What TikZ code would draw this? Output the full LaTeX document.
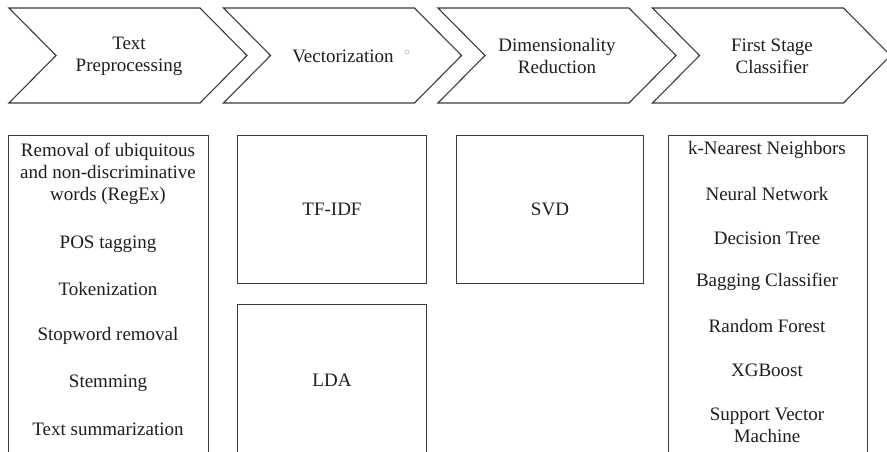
\documentclass[tikz,border=0pt]{standalone}
\usepackage{fontspec}
\setmainfont{Liberation Serif}
\definecolor{lc}{HTML}{3C3C3C}
\definecolor{tc}{HTML}{1E1E1E}
\begin{document}
\begin{tikzpicture}[x=1pt,y=-1pt,
  chev/.style={draw=lc, line width=1.1pt, line join=miter},
  panel/.style={draw=lc, line width=1.1pt, inner sep=0pt, anchor=north west},
  lbl/.style={font=\fontsize{19}{22}\selectfont, text=tc, align=center, inner sep=0pt}]
\useasboundingbox (0,0) rectangle (887,452);
\clip (0,0) rectangle (887,452);
\fill[white] (0,0) rectangle (887,452);
% chevrons
\foreach \i in {0,1,2,3}{
  \pgfmathsetmacro{\L}{9+214.5*\i}
  \draw[chev] (\L,8) -- ++(191,0) -- ++(47,47.5) -- ++(-47,47.5) -- ++(-191,0) -- ++(47,-47.5) -- cycle;
}
\node[lbl] (h1) at (129,56) {Text\\Preprocessing};
\node[lbl] (h2) at (343,56) {Vectorization};
\node[lbl] (h3) at (557,56) {Dimensionality\\Reduction};
\node[lbl] (h4) at (772,56) {First Stage\\Classifier};
\node[circle, draw=gray!55, line width=0.6pt, minimum size=4pt, inner sep=0pt] (dot) at (407,52) {};
% panels
\node[panel, minimum width=200pt, minimum height=340pt] (b1) at (8,135) {};
\node[panel, minimum width=189pt, minimum height=148pt] (tfidf) at (237,135) {};
\node[panel, minimum width=189pt, minimum height=170pt] (lda) at (237,304) {};
\node[panel, minimum width=187pt, minimum height=148pt] (svd) at (456,135) {};
\node[panel, minimum width=199pt, minimum height=340pt] (b4) at (668,135) {};
% panel texts
\node[lbl] (t11) at (108,174) {Removal of ubiquitous\\and non-discriminative\\words (RegEx)};
\node[lbl] (t12) at (108,244) {POS tagging};
\node[lbl] (t13) at (108,289) {Tokenization};
\node[lbl] (t14) at (108,336) {Stopword removal};
\node[lbl] (t15) at (108,383) {Stemming};
\node[lbl] (t16) at (108,429) {Text summarization};
\node[lbl] (tf) at (332,209) {TF-IDF};
\node[lbl] (ld) at (332,380) {LDA};
\node[lbl] (sv) at (550,209) {SVD};
\node[lbl] (c1) at (767,150) {k-Nearest Neighbors};
\node[lbl] (c2) at (767,194) {Neural Network};
\node[lbl] (c3) at (767,238) {Decision Tree};
\node[lbl] (c4) at (767,282) {Bagging Classifier};
\node[lbl] (c5) at (767,326) {Random Forest};
\node[lbl] (c6) at (767,370) {XGBoost};
\node[lbl] (c7) at (767,425) {Support Vector\\Machine};
\end{tikzpicture}
\end{document}
